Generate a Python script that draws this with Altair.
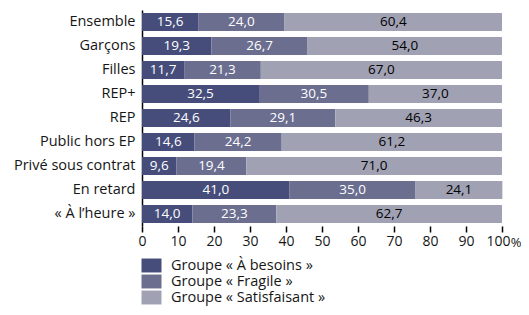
import altair as alt
import pandas as pd

categories = ["Ensemble", "Garçons", "Filles", "REP+", "REP", "Public hors EP",
              "Privé sous contrat", "En retard", "« À l’heure »"]
groups = ["Groupe  « À besoins »", "Groupe « Fragile »", "Groupe « Satisfaisant »"]
besoins = [15.6, 19.3, 11.7, 32.5, 24.6, 14.6, 9.6, 41.0, 14.0]
fragile = [24.0, 26.7, 21.3, 30.5, 29.1, 24.2, 19.4, 35.0, 23.3]
satisfaisant = [60.4, 54.0, 67.0, 37.0, 46.3, 61.2, 71.0, 24.1, 62.7]
colors = ["#464d7b", "#6b6e8f", "#a0a2b4"]
text_colors = ["white", "white", "black"]

rows = []
for i, c in enumerate(categories):
    for g, (grp, vals) in enumerate(zip(groups, [besoins, fragile, satisfaisant])):
        rows.append({"cat": c, "grp": grp, "v": vals[i], "ord": g, "tc": text_colors[g]})
df = pd.DataFrame(rows)

FONT = "Open Sans"
FS = 14.5

base = alt.Chart(df).transform_stack(
    stack="v", groupby=["cat"], as_=["s0", "s1"], sort=[alt.SortField("ord")]
).transform_calculate(
    mid="(datum.s0 + datum.s1) / 2",
    lab="replace(format(datum.v, '.1f'), '.', ',')"
)

xscale = alt.Scale(domain=[0, 100], nice=False)
xaxis = alt.Axis(values=list(range(0, 101, 10)), grid=False, domain=False,
                 tickColor="black", tickWidth=1.5, tickSize=6, labelOverlap=False,
                 labelFlush=False, labelFontSize=14, labelFont=FONT, labelColor="#161616",
                 labelAlign={"condition": {"test": "datum.value == 100", "value": "right"},
                             "value": "center"},
                 labelOffset={"condition": {"test": "datum.value == 100", "value": 8},
                              "value": 0},
                 labelPadding=2, title=None)
yscale = alt.Scale(paddingInner=0.25, paddingOuter=0.125)
yaxis = alt.Axis(ticks=False, tickSize=0, labelPadding=7, labelFontSize=FS,
                 labelFont=FONT, labelColor="#161616", domainColor="black",
                 domainWidth=1.5, title=None)

bars = base.mark_bar().encode(
    x=alt.X("s0:Q", scale=xscale, axis=xaxis, title=None),
    x2="s1:Q",
    y=alt.Y("cat:N", sort=categories, scale=yscale, axis=yaxis, title=None),
    color=alt.Color("grp:N", sort=groups, title=None,
                    scale=alt.Scale(domain=groups, range=colors),
                    legend=alt.Legend(orient="none", legendX=1, legendY=247,
                                      symbolType="M-1.176,-0.82H1.176V0.82H-1.176Z",
                                      symbolSize=289,
                                      symbolStrokeWidth=0, symbolOpacity=1,
                                      labelFontSize=FS, labelFont=FONT, labelColor="#161616",
                                      labelOffset=11, rowPadding=0, padding=0)),
)

texts = base.mark_text(fontSize=13.5, font=FONT).encode(
    x=alt.X("mid:Q", scale=xscale, axis=xaxis, title=None),
    y=alt.Y("cat:N", sort=categories, scale=yscale, axis=yaxis, title=None),
    text="lab:N",
    color=alt.Color("tc:N", scale=None, legend=None),
)

pct = alt.Chart(pd.DataFrame({"x": [100], "t": ["%"]})).mark_text(
    fontSize=13, font=FONT, color="#161616", dx=14, baseline="middle"
).encode(x=alt.X("x:Q", scale=xscale, axis=xaxis, title=None), y=alt.value(233), text="t:N")

chart = alt.layer(bars, texts, pct).properties(
    width=360, height=216,
    autosize=alt.AutoSizeParams(type="none"),
    padding={"left": 134, "top": 2, "right": 19, "bottom": 81}
).configure_view(stroke=None)

chart.save("out.html", embed_options={"renderer": "svg", "actions": False})
